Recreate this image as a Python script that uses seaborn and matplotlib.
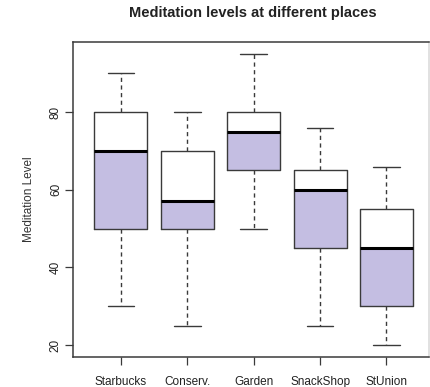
import numpy as np
import pandas as pd
import matplotlib
matplotlib.use("Agg")
import matplotlib.pyplot as plt
import seaborn as sns

# Five-number summaries for each place
places = ["Starbucks", "Conserv.", "Garden", "SnackShop", "StUnion"]
low = [30, 25, 50, 25, 20]
q1 = [50, 50, 65, 45, 30]
median = [70, 57, 75, 60, 45]
q3 = [80, 70, 80, 65, 55]
high = [90, 80, 95, 76, 66]
y_ticks = [20, 40, 60, 80]

# Long-form table: the five summary values per place reproduce the quartiles exactly
rows = []
for i, p in enumerate(places):
    for v in (low[i], q1[i], median[i], q3[i], high[i]):
        rows.append({"place": p, "level": v})
df = pd.DataFrame(rows)

sns.set_style("ticks")
plt.rcParams["font.family"] = ["Liberation Sans", "DejaVu Sans"]

line_col = "#3a3a3a"
fill_col = "#c4bee2"

fig = plt.figure(figsize=(4.30, 3.87), dpi=100)
ax = fig.add_axes([73 / 430, 30 / 387, 356 / 430, 315 / 387])

sns.boxplot(
    data=df, x="place", y="level", order=places, ax=ax,
    whis=(0, 100), width=0.8, fill=False, color=line_col, linewidth=1.0,
    showfliers=False,
    medianprops=dict(color="black", linewidth=2.2, solid_capstyle="butt"),
    whiskerprops=dict(linestyle=(0, (3, 2.5)), color=line_col),
    capprops=dict(color=line_col),
)

# Shade the lower half of each box (first quartile to median)
heights = np.array(median) - np.array(q1)
ax.bar(range(len(places)), heights, bottom=q1, width=0.8,
       color=fill_col, linewidth=0, zorder=0.5)

ax.set_xlim(-0.72, 4.64)
ax.set_ylim(16.9, 98.1)
ax.set_yticks(y_ticks)
ax.set_yticklabels([str(t) for t in y_ticks], rotation=90, va="center")
ax.tick_params(axis="both", direction="out", length=6, width=0.9,
               color=line_col, labelsize=8.5, labelcolor="#222222")
ax.tick_params(axis="y", pad=2)
ax.tick_params(axis="x", pad=8)

for side, sp in ax.spines.items():
    sp.set_visible(True)
    sp.set_linewidth(1.1)
    sp.set_color(line_col)
ax.spines["right"].set_color("#d8d8d8")

ax.set_xlabel("")
ax.set_ylabel("Meditation Level", fontsize=8.5, color="#333333", labelpad=11)
ax.set_title("Meditation levels at different places", fontsize=10.5,
             fontweight="bold", color="#222222", pad=18, x=(253 - 73) / 356)

fig.savefig("out.png", dpi=100)
